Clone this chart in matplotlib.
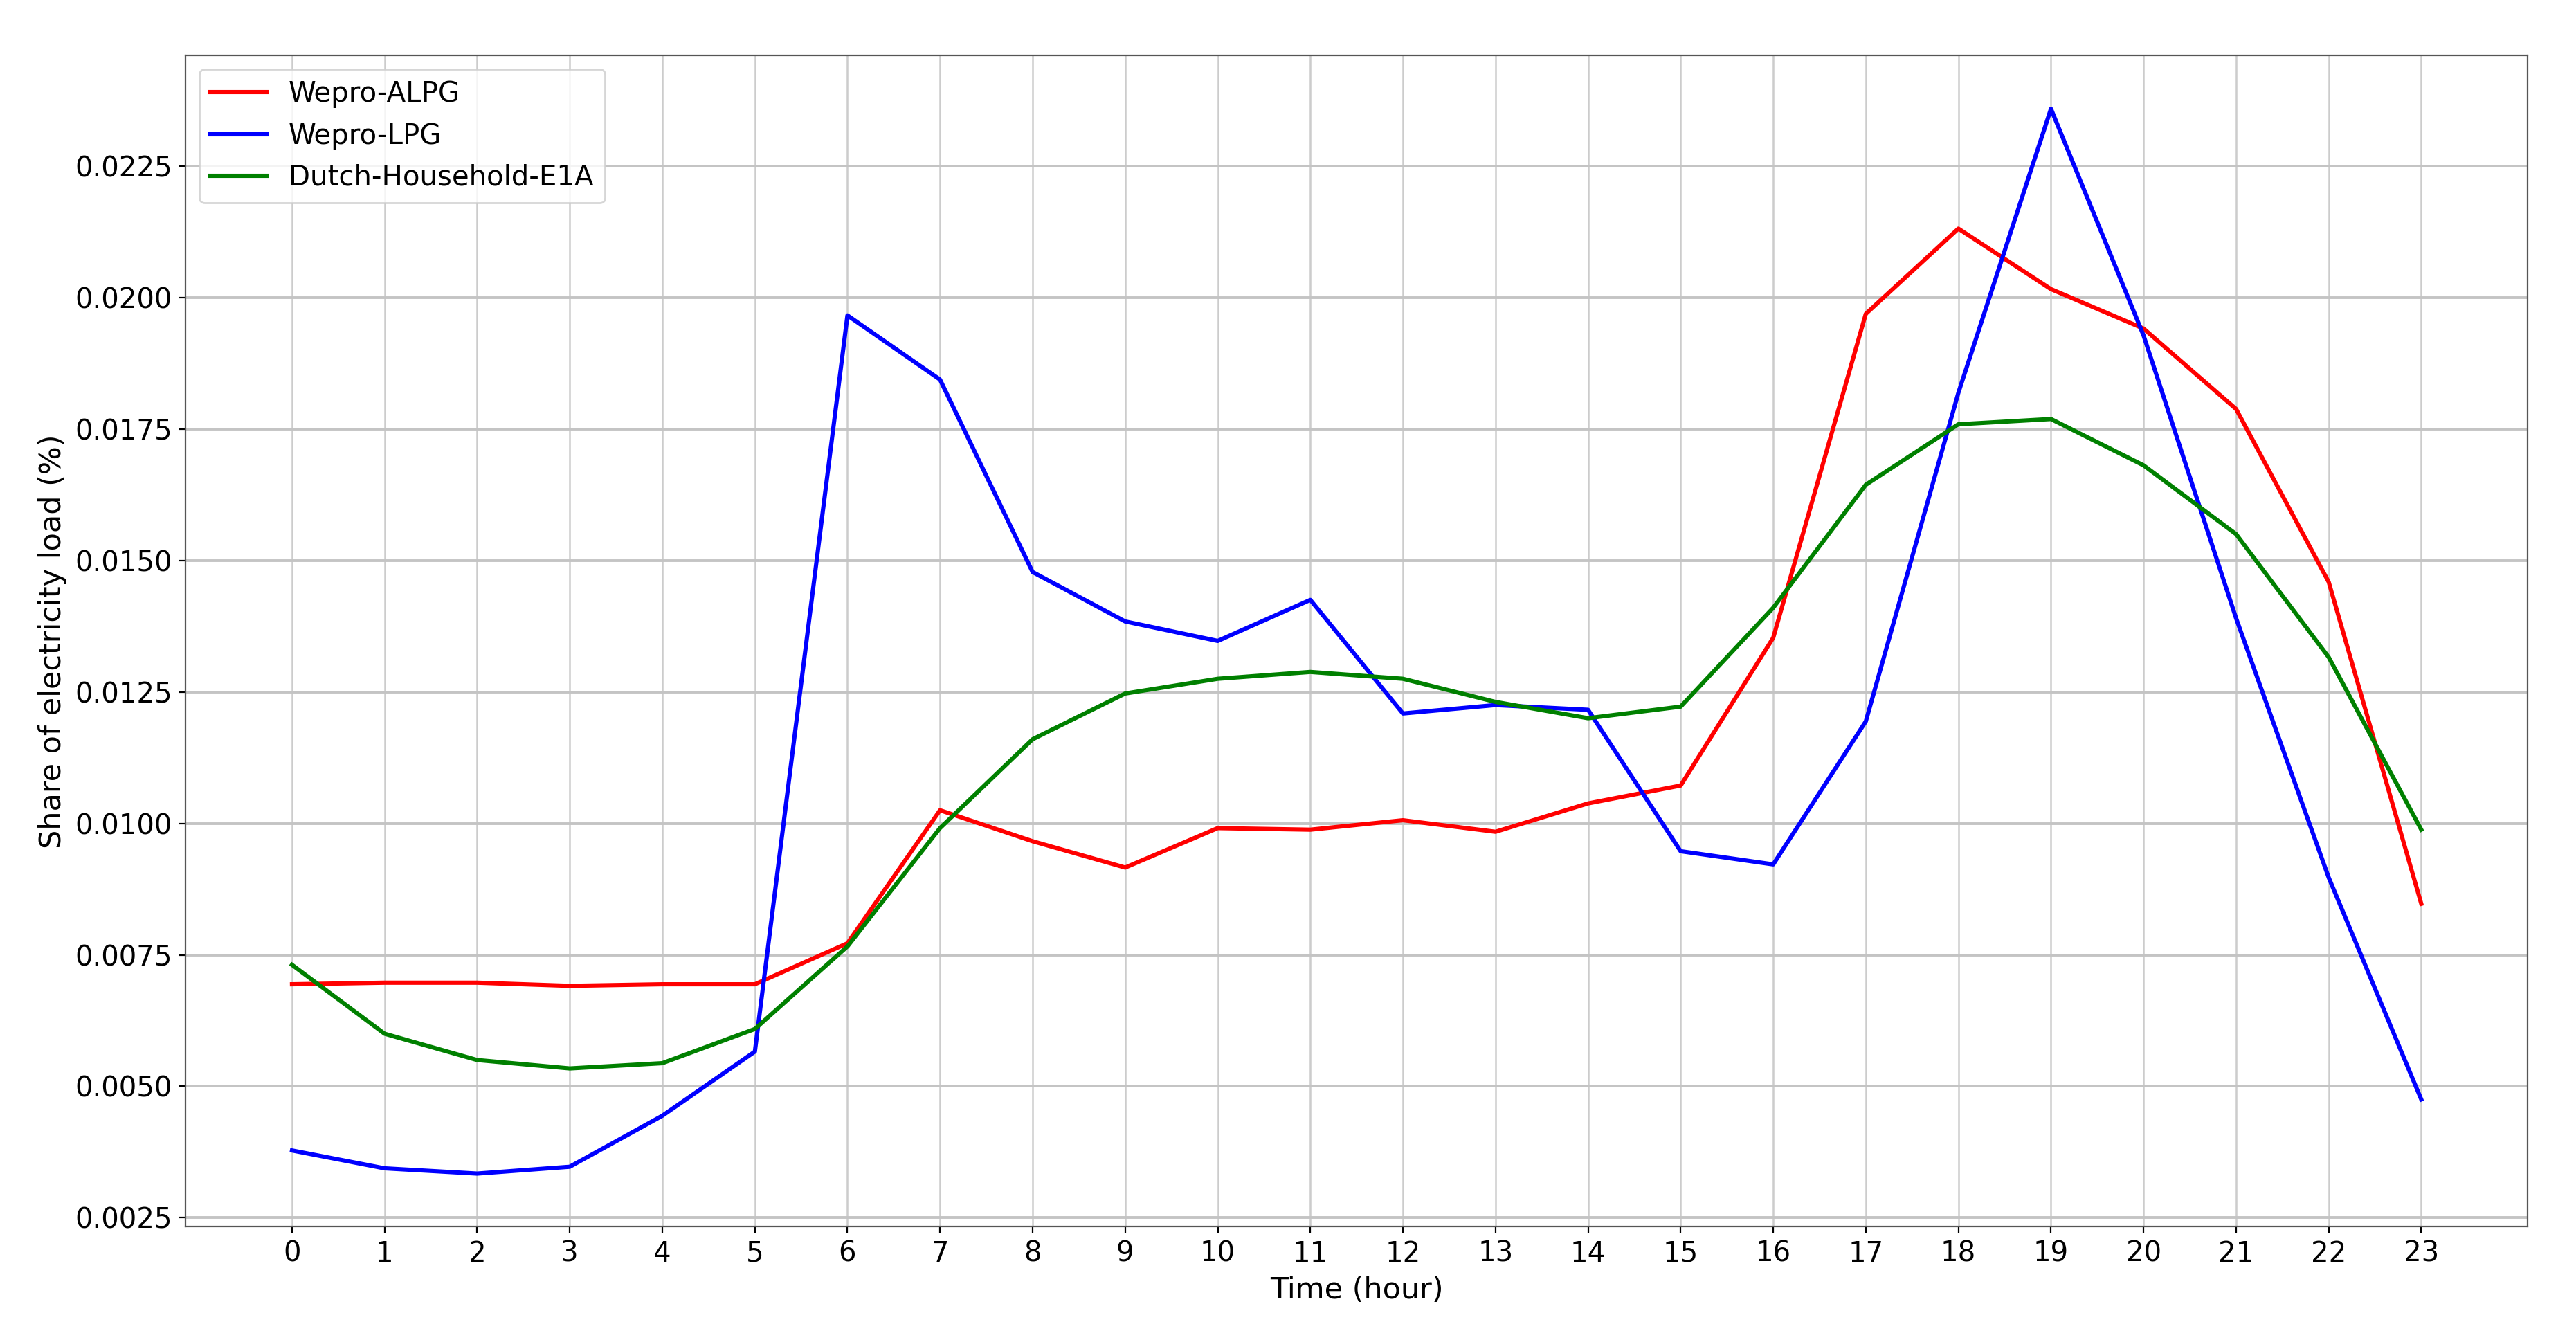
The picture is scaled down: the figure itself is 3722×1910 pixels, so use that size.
import numpy as np
import matplotlib
matplotlib.use("Agg")
import matplotlib.pyplot as plt

# hours of the day
hours = np.arange(24)

# share of electricity load per hour
wepro_alpg = [0.00694, 0.00697, 0.00697, 0.00691, 0.00694, 0.00694, 0.00772, 0.01025,
              0.00966, 0.00916, 0.00991, 0.00988, 0.01006, 0.00984, 0.01038, 0.01072,
              0.01353, 0.01969, 0.02131, 0.02016, 0.01941, 0.01788, 0.01459, 0.00847]
wepro_lpg = [0.00378, 0.00344, 0.00334, 0.00347, 0.00444, 0.00566, 0.01966, 0.01844,
             0.01478, 0.01384, 0.01347, 0.01425, 0.01209, 0.01225, 0.01216, 0.00947,
             0.00922, 0.01194, 0.01819, 0.02359, 0.01928, 0.01390, 0.00897, 0.00475]
dutch_e1a = [0.00731, 0.00600, 0.00550, 0.00534, 0.00544, 0.00609, 0.00766, 0.00991,
             0.01160, 0.01247, 0.01275, 0.01288, 0.01275, 0.01231, 0.01200, 0.01222,
             0.01410, 0.01644, 0.01759, 0.01769, 0.01681, 0.01550, 0.01316, 0.00988]

fig = plt.figure(figsize=(18.615, 9.55), dpi=200)
ax = fig.add_axes([0.072, 0.072, 0.909, 0.886])

ax.plot(hours, wepro_alpg, c='r', lw=2.2, label='Wepro-ALPG')
ax.plot(hours, wepro_lpg, c='b', lw=2.2, label='Wepro-LPG')
ax.plot(hours, dutch_e1a, c='g', lw=2.2, label='Dutch-Household-E1A')

ax.set_xticks(hours)
ax.set_yticks([0.0025, 0.0050, 0.0075, 0.0100, 0.0125, 0.0150, 0.0175, 0.0200, 0.0225])
ax.yaxis.set_major_formatter(matplotlib.ticker.FormatStrFormatter('%.4f'))
ax.tick_params(labelsize=14.5)
# horizontal grid a bit heavier than vertical one, like the original
ax.yaxis.grid(True, color='#c4c4c4', lw=1.4)
ax.xaxis.grid(True, color='#cccccc', lw=0.9)
for s in ax.spines.values():
    s.set_color('#555555')

ax.set_xlabel('Time (hour)', fontsize=15.5)
ax.set_ylabel('Share of electricity load (%)', fontsize=15.5)
ax.legend(loc='upper left', fontsize=14.5)

fig.savefig('out.png', dpi=200)
